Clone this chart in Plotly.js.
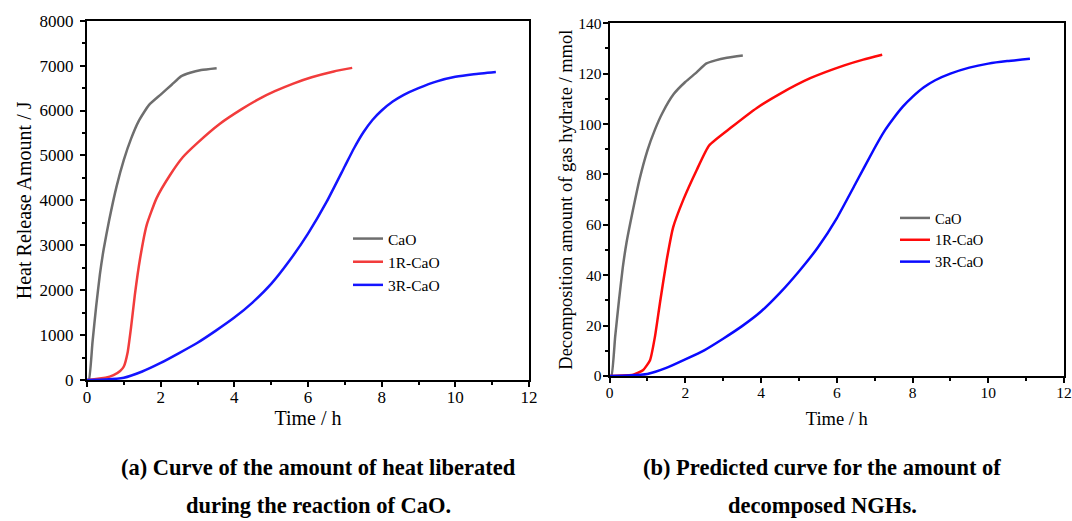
<!DOCTYPE html>
<html>
<head>
<meta charset="utf-8">
<script src="https://cdn.plot.ly/plotly-3.0.1.min.js"></script>
<style>
  html, body { margin: 0; padding: 0; background: #fff; }
  #chart { width: 1072px; height: 521px; }
</style>
</head>
<body>
<div id="chart"></div>
<script>
// ---------- Data: (a) heat release amount / J ----------
const seriesNames = ["CaO", "1R-CaO", "3R-CaO"];

const tHeatCaO = [0, 0.05, 0.15, 0.25, 0.35, 0.45, 0.6, 0.8, 1.0, 1.2, 1.4, 1.68, 2.0, 2.3, 2.55, 2.8, 3.1, 3.52];
const heatCaO  = [0, 0, 850, 1650, 2350, 2900, 3550, 4300, 4900, 5380, 5760, 6120, 6355, 6575, 6760, 6840, 6900, 6940];

const tHeat1R = [0, 0.5, 0.72, 0.9, 1.0, 1.1, 1.2, 1.3, 1.44, 1.62, 1.89, 2.26, 2.6, 3.0, 3.6, 4.2, 4.7, 5.1, 5.6, 6.1, 6.7, 7.2];
const heat1R  = [0, 50, 110, 200, 300, 600, 1200, 1900, 2700, 3450, 4050, 4570, 4960, 5280, 5700, 6030, 6270, 6430, 6600, 6740, 6870, 6950];

const tHeat3R = [0, 0.5, 1.0, 1.5, 2.0, 2.5, 3.0, 3.5, 4.0, 4.5, 5.0, 5.5, 6.0, 6.5, 7.0, 7.25, 7.5, 7.75, 8.0, 8.3, 8.6, 9.0, 9.5, 10.0, 10.5, 11.1];
const heat3R  = [0, 10, 50, 190, 380, 600, 830, 1100, 1390, 1730, 2140, 2660, 3260, 3960, 4760, 5160, 5510, 5790, 6000, 6200, 6350, 6500, 6650, 6750, 6810, 6860];

// ---------- Data: (b) decomposition amount of gas hydrate / mmol ----------
const tDecCaO = [0, 0.05, 0.15, 0.25, 0.35, 0.45, 0.6, 0.8, 1.0, 1.2, 1.4, 1.7, 2.0, 2.3, 2.55, 2.8, 3.1, 3.52];
const decCaO  = [0, 0, 15.6, 30, 43, 53, 64.5, 78.5, 89.5, 97.8, 104.5, 112, 116.7, 120.5, 124, 125.3, 126.3, 127.2];

const tDec1R = [0, 0.5, 0.63, 0.89, 1.07, 1.2, 1.33, 1.51, 1.68, 1.95, 2.3, 2.63, 3.2, 3.9, 4.5, 5.3, 6.2, 6.7, 7.2];
const dec1R  = [0, 0.3, 0.5, 2.4, 6.3, 15.6, 28.8, 46, 59, 70, 81.7, 91.5, 98.5, 106.5, 112, 118.2, 123.3, 125.6, 127.5];

const tDec3R = [0, 0.5, 1.0, 1.5, 2.0, 2.5, 3.0, 3.5, 4.0, 4.5, 5.0, 5.5, 6.0, 6.5, 7.0, 7.25, 7.5, 7.75, 8.0, 8.3, 8.6, 9.0, 9.5, 10.0, 10.5, 11.1];
const dec3R  = [0, 0.2, 0.8, 3.2, 6.6, 10.2, 14.8, 19.8, 25.6, 33, 41.5, 51, 62.6, 76.5, 90.5, 97, 102.3, 107, 110.8, 114.6, 117.4, 120, 122.4, 124, 125, 125.9];

// ---------- Text ----------
const xTitle = "Time / h";
const yTitleA = "Heat Release Amount / J";
const yTitleB = "Decomposition amount of gas hydrate / mmol";
const captionA = ["(a) Curve of the amount of heat liberated", "during the reaction of CaO."];
const captionB = ["(b) Predicted curve for the amount of", "decomposed NGHs."];

// ---------- Styles ----------
const W = 1072, H = 521;
const FONT = "Liberation Serif, Times New Roman, serif";
const colorsA = ["#6e6e6e", "#f23c3c", "#1414ff"];
const colorsB = ["#6e6e6e", "#ff0a0a", "#0a0aff"];

function tr(x, y, name, color, xa, ya, lg) {
  return {
    x: x, y: y, name: name, type: "scatter", mode: "lines",
    xaxis: xa, yaxis: ya, legend: lg,
    line: { color: color, width: 2.5, shape: "spline", smoothing: 0.5 },
    hoverinfo: "x+y+name"
  };
}

const traces = [
  tr(tHeatCaO, heatCaO, seriesNames[0], colorsA[0], "x", "y", "legend"),
  tr(tHeat1R, heat1R, seriesNames[1], colorsA[1], "x", "y", "legend"),
  tr(tHeat3R, heat3R, seriesNames[2], colorsA[2], "x", "y", "legend"),
  tr(tDecCaO, decCaO, seriesNames[0], colorsB[0], "x2", "y2", "legend2"),
  tr(tDec1R, dec1R, seriesNames[1], colorsB[1], "x2", "y2", "legend2"),
  tr(tDec3R, dec3R, seriesNames[2], colorsB[2], "x2", "y2", "legend2")
];

function px(x) { return x / W; }
function py(y) { return 1 - y / H; }

function axisBase(extra) {
  return Object.assign({
    showline: true, mirror: true, linecolor: "#000", linewidth: 2,
    ticks: "outside", ticklen: 5, tickwidth: 2, tickcolor: "#000",
    showgrid: false, zeroline: false, automargin: false,
    fixedrange: true
  }, extra);
}

const layout = {
  width: W, height: H,
  margin: { l: 0, r: 0, t: 0, b: 0 },
  paper_bgcolor: "#fff", plot_bgcolor: "#fff",
  font: { family: FONT, color: "#000" },
  showlegend: true,
  xaxis: axisBase({
    domain: [px(87), px(529)], range: [0, 12], dtick: 2, anchor: "y",
    ticklabelstandoff: -4,
    tickfont: { size: 17, family: FONT, color: "#000" },
    minor: { dtick: 1, ticks: "outside", ticklen: 3, tickwidth: 2, tickcolor: "#000" },
    title: { text: xTitle, font: { size: 20, family: FONT, color: "#000" }, standoff: 4 }
  }),
  yaxis: axisBase({
    domain: [py(380), py(20.7)], range: [0, 8000], dtick: 1000, anchor: "x",
    ticklabelstandoff: 3,
    tickfont: { size: 17, family: FONT, color: "#000" },
    minor: { dtick: 500, ticks: "outside", ticklen: 3, tickwidth: 2, tickcolor: "#000" },
    title: { text: yTitleA, font: { size: 20, family: FONT, color: "#000" }, standoff: 3 }
  }),
  xaxis2: axisBase({
    domain: [px(609.5), px(1064)], range: [0, 12], dtick: 2, anchor: "y2",
    ticklabelstandoff: -4,
    tickfont: { size: 15.5, family: FONT, color: "#000" },
    minor: { dtick: 1, ticks: "outside", ticklen: 3, tickwidth: 2, tickcolor: "#000" },
    title: { text: xTitle, font: { size: 18.5, family: FONT, color: "#000" }, standoff: 12 }
  }),
  yaxis2: axisBase({
    domain: [py(376), py(23.3)], range: [0, 140], dtick: 20, anchor: "x2",
    ticklabelstandoff: -2,
    tickfont: { size: 15.5, family: FONT, color: "#000" },
    minor: { dtick: 10, ticks: "outside", ticklen: 3, tickwidth: 2, tickcolor: "#000" },
    title: { text: yTitleB, font: { size: 18.5, family: FONT, color: "#000" }, standoff: 1 }
  }),
  legend: {
    x: px(348), y: py(222), xanchor: "left", yanchor: "top",
    bgcolor: "rgba(0,0,0,0)", borderwidth: 0,
    font: { size: 15.5, family: FONT, color: "#000" }, tracegroupgap: 0
  },
  legend2: {
    x: px(895), y: py(202), xanchor: "left", yanchor: "top",
    bgcolor: "rgba(0,0,0,0)", borderwidth: 0,
    font: { size: 14.5, family: FONT, color: "#000" }, tracegroupgap: 0
  },
  annotations: [
    { text: "<b>" + captionA[0] + "</b>", xref: "paper", yref: "paper", x: px(318), y: py(467), xanchor: "center", yanchor: "middle", showarrow: false, font: { size: 22.5, family: FONT, color: "#000" } },
    { text: "<b>" + captionA[1] + "</b>", xref: "paper", yref: "paper", x: px(318), y: py(505), xanchor: "center", yanchor: "middle", showarrow: false, font: { size: 22.5, family: FONT, color: "#000" } },
    { text: "<b>" + captionB[0] + "</b>", xref: "paper", yref: "paper", x: px(822), y: py(467), xanchor: "center", yanchor: "middle", showarrow: false, font: { size: 22.5, family: FONT, color: "#000" } },
    { text: "<b>" + captionB[1] + "</b>", xref: "paper", yref: "paper", x: px(822), y: py(505), xanchor: "center", yanchor: "middle", showarrow: false, font: { size: 22.5, family: FONT, color: "#000" } }
  ]
};

Plotly.newPlot("chart", traces, layout, { displayModeBar: false });
</script>
</body>
</html>
